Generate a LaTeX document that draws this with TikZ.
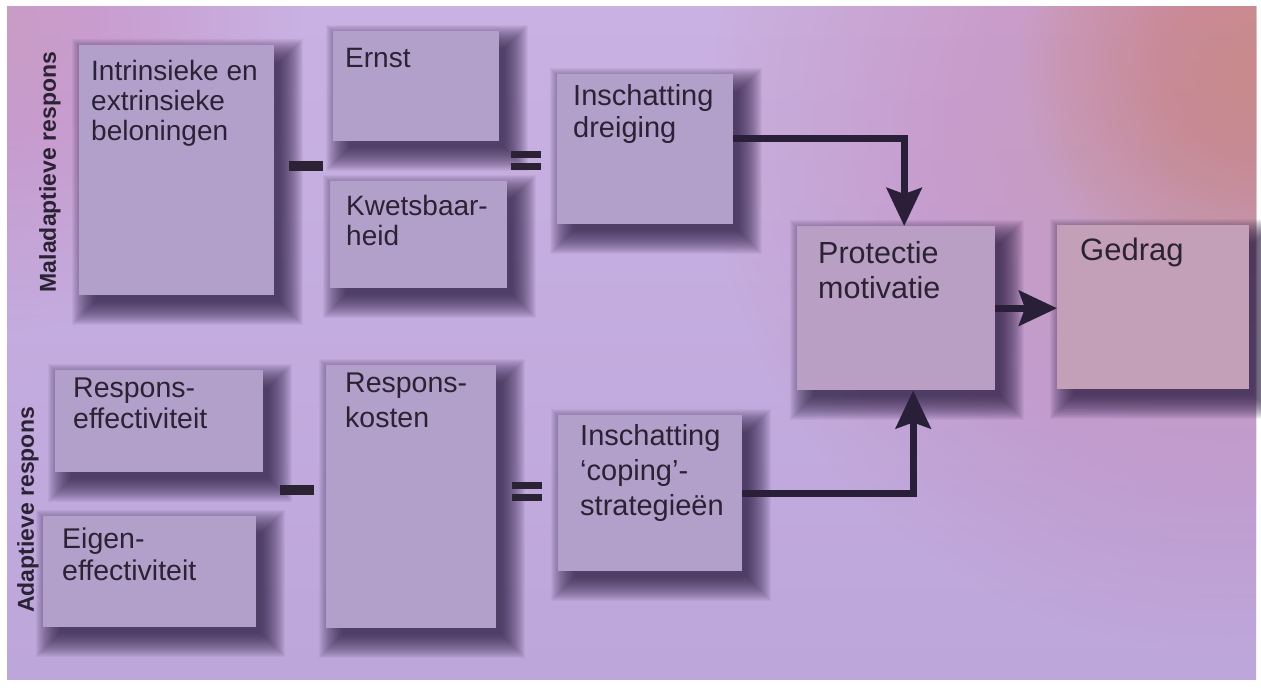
\documentclass[tikz,border=0pt]{standalone}
\usepackage{fontspec}
\setmainfont{Liberation Sans}
\usetikzlibrary{arrows.meta}
\pgfdeclarelayer{back}
\pgfdeclarelayer{shade}
\pgfsetlayers{back,shade,main}
\definecolor{bgtop}{HTML}{C9B1E3}
\definecolor{bgbot}{HTML}{BDA6DA}
\definecolor{pinkc}{HTML}{DA9CB8}
\definecolor{salmon}{HTML}{E08A78}
\definecolor{boxc}{HTML}{B2A0CA}
\definecolor{boxp}{HTML}{B89FC3}
\definecolor{boxg}{HTML}{C4A0B8}
\definecolor{shadowc}{HTML}{2E1F44}
\definecolor{inkc}{HTML}{2B2233}
\definecolor{arrc}{HTML}{2A1F38}
\newcommand\bx[6]{%
  \node[boxst, fill=#6, minimum width=#4pt, minimum height=#5pt, anchor=north west] (#1) at (#2,#3) {};
  \begin{pgfonlayer}{shade}
    \foreach \r in {-6,...,18}
      \fill[shadowc, opacity=0.05] ([shift={(11-\r,12-\r)}]#1.north west) rectangle ([shift={(11+\r,12+\r)}]#1.south east);
  \end{pgfonlayer}}
\newcommand\tx[6]{% name, dx, dy, size, skip, text
  \node[txt, anchor=base west] (#1-t) at ([shift={(#2,#3)}]#1.north west)
    {\parbox[t]{9cm}{\fontsize{#4}{#5}\selectfont\raggedright #6}};}
\begin{document}
\begin{tikzpicture}[x=1pt,y=-1pt,
  boxst/.style={rectangle, inner sep=0pt, draw=none},
  txt/.style={inner sep=0pt, text=inkc},
  side/.style={inner sep=0pt, text=inkc, font=\fontsize{23}{26}\selectfont\bfseries, rotate=90},
  bar/.style={rectangle, inner sep=0pt, fill=inkc, draw=none},
  arr/.style={draw=arrc, line width=7pt, -{Stealth[width=35pt,length=38pt,inset=6pt]}}]
\useasboundingbox (0,0) rectangle (1261,689);
\begin{pgfonlayer}{back}
  \fill[white] (0,0) rectangle (1261,689);
  \fill[top color=bgtop, bottom color=bgbot] (7,6) rectangle (1256,679);
  \begin{scope}
    \clip (7,6) rectangle (1256,679);
    \foreach \k in {1,...,40} \fill[pinkc, opacity=0.027] (1230,130) circle (\k*13);
    \foreach \k in {1,...,30} \fill[salmon, opacity=0.03] (1262,60) circle (\k*8);
    \foreach \k in {1,...,30} \fill[pinkc, opacity=0.015] (0,30) circle (\k*10);
  \end{scope}
\end{pgfonlayer}

% boxes
\bx{intr}{79}{45}{195}{250}{boxc}
\bx{ernst}{333}{31}{166}{110}{boxc}
\bx{kwets}{330}{181}{177}{107}{boxc}
\bx{dreig}{557}{74}{176}{150}{boxc}
\bx{prot}{797}{226}{198}{164}{boxp}
\bx{ged}{1057}{225}{192}{164}{boxg}
\bx{reff}{55}{370}{208}{102}{boxc}
\bx{eigen}{43}{516}{213}{111}{boxc}
\bx{kost}{326}{365}{170}{263}{boxc}
\bx{coping}{558}{415}{184}{156}{boxc}

% texts
\tx{intr}{12}{35}{28}{30}{Intrinsieke en\\extrinsieke\\beloningen}
\tx{ernst}{12}{36}{28}{32}{Ernst}
\tx{kwets}{16}{34}{28}{30}{Kwetsbaar-\\heid}
\tx{dreig}{16}{31}{29}{32}{Inschatting\\dreiging}
\tx{prot}{21}{37}{30.5}{35}{Protectie\\motivatie}
\tx{ged}{23}{35}{31}{32}{Gedrag}
\tx{reff}{18}{27}{28.5}{31}{Respons-\\effectiviteit}
\tx{eigen}{19}{32}{28.5}{32}{Eigen-\\effectiviteit}
\tx{kost}{19}{27}{28.5}{35}{Respons-\\kosten}
\tx{coping}{22}{30}{29}{35}{Inschatting\\‘coping’-\\strategieën}

% side labels
\node[side] (mal) at (50,172) {Maladaptieve respons};
\node[side] (adap) at (28,510) {Adaptieve respons};

% operators
\node[bar, minimum width=34pt, minimum height=10pt] (min1) at (306,166) {};
\node[bar, minimum width=34pt, minimum height=10pt] (min2) at (297,490) {};
\node[bar, minimum width=30pt, minimum height=7pt] (eq1a) at (526,154) {};
\node[bar, minimum width=30pt, minimum height=7pt] (eq1b) at (526,166) {};
\node[bar, minimum width=30pt, minimum height=7pt] (eq2a) at (527,485) {};
\node[bar, minimum width=30pt, minimum height=7pt] (eq2b) at (527,497) {};

% connectors
\draw[arr] ([yshift=11pt]dreig.east) -| ([xshift=8pt]prot.north);
\draw[arr] (coping.east) -| ([xshift=17pt]prot.south);
\draw[arr] (prot.east) -- (prot.east -| ged.west);
\end{tikzpicture}
\end{document}
